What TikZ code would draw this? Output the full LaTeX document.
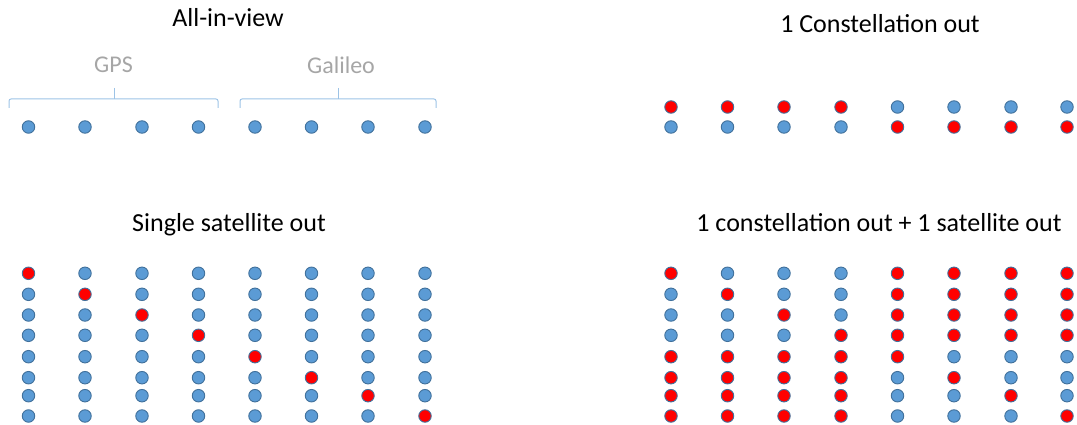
\documentclass[tikz,border=0pt]{standalone}
\usepackage{fontspec}
\setmainfont{Carlito}
\definecolor{dotblue}{HTML}{5B9BD5}
\definecolor{dotedge}{HTML}{41719C}
\definecolor{dotred}{HTML}{FF0000}
\definecolor{bracecol}{HTML}{9DC3E6}
\definecolor{labgray}{HTML}{A6A6A6}
\begin{document}
\begin{tikzpicture}[x=1pt,y=-1pt,
  sat/.style={circle,inner sep=0pt,minimum size=12.5pt,line width=0.9pt,draw=dotedge,fill=dotblue},
  satout/.style={sat,fill=dotred},
  title/.style={inner sep=0pt,anchor=base,font=\fontsize{26}{30}\selectfont,text=black},
  grouplab/.style={inner sep=0pt,anchor=base,font=\fontsize{24}{28}\selectfont,text=labgray},
  bracket/.style={draw=bracecol,line width=1pt,rounded corners=2pt}]
\useasboundingbox (0,0) rectangle (1077,425);
% titles
\node[title] (t1) at (228,27) {All-in-view};
\node[title] (t2) at (880,33) {1 Constellation out};
\node[title] (t3) at (229,232) {Single satellite out};
\node[title] (t4) at (879,232) {1 constellation out + 1 satellite out};
% group labels
\node[grouplab] (gps) at (113.5,73) {GPS};
\node[grouplab] (gal) at (341,74) {Galileo};
% braces
\coordinate (gpsL) at (9,108);
\coordinate (gpsR) at (218,108);
\coordinate (gpsT) at (114,88);
\coordinate (galL) at (240,108);
\coordinate (galR) at (436,108);
\coordinate (galT) at (338,88);
\draw[bracket] (gpsL) -- (9,99) -- (218,99) -- (gpsR);
\draw[bracket] (gpsT) -- (114,99);
\draw[bracket] (galL) -- (240,99) -- (436,99) -- (galR);
\draw[bracket] (galT) -- (338,99);
% column positions
\def\lxs{{28.5,85,142,198.5,255,311.5,368,425}}
\def\rxs{{671,727.5,784,841,897.5,954,1011,1067}}
\def\bys{{273.3,294.3,315,335.3,356.7,377.7,395.7,416}}
% all-in-view row
\foreach \j in {1,...,8}{
  \pgfmathsetmacro{\xx}{\lxs[\j-1]}
  \node[sat] (A-\j) at (\xx,127) {};
}
% 1 constellation out
\foreach \j in {1,...,8}{
  \pgfmathsetmacro{\xx}{\rxs[\j-1]}
  \ifnum\j<5
    \node[satout] (C-1-\j) at (\xx,107) {};
    \node[sat] (C-2-\j) at (\xx,127) {};
  \else
    \node[sat] (C-1-\j) at (\xx,107) {};
    \node[satout] (C-2-\j) at (\xx,127) {};
  \fi
}
% single satellite out
\foreach \i in {1,...,8}{
  \foreach \j in {1,...,8}{
    \pgfmathsetmacro{\xx}{\lxs[\j-1]}
    \pgfmathsetmacro{\yy}{\bys[\i-1]}
    \ifnum\i=\j
      \node[satout] (S-\i-\j) at (\xx,\yy) {};
    \else
      \node[sat] (S-\i-\j) at (\xx,\yy) {};
    \fi
  }
}
% 1 constellation out + 1 satellite out
\foreach \i in {1,...,8}{
  \foreach \j in {1,...,8}{
    \pgfmathsetmacro{\xx}{\rxs[\j-1]}
    \pgfmathsetmacro{\yy}{\bys[\i-1]}
    \pgfmathtruncatemacro{\isred}{(\i==\j) || (\i<5 && \j>4) || (\i>4 && \j<5) ? 1 : 0}
    \ifnum\isred=1
      \node[satout] (M-\i-\j) at (\xx,\yy) {};
    \else
      \node[sat] (M-\i-\j) at (\xx,\yy) {};
    \fi
  }
}
\end{tikzpicture}
\end{document}
